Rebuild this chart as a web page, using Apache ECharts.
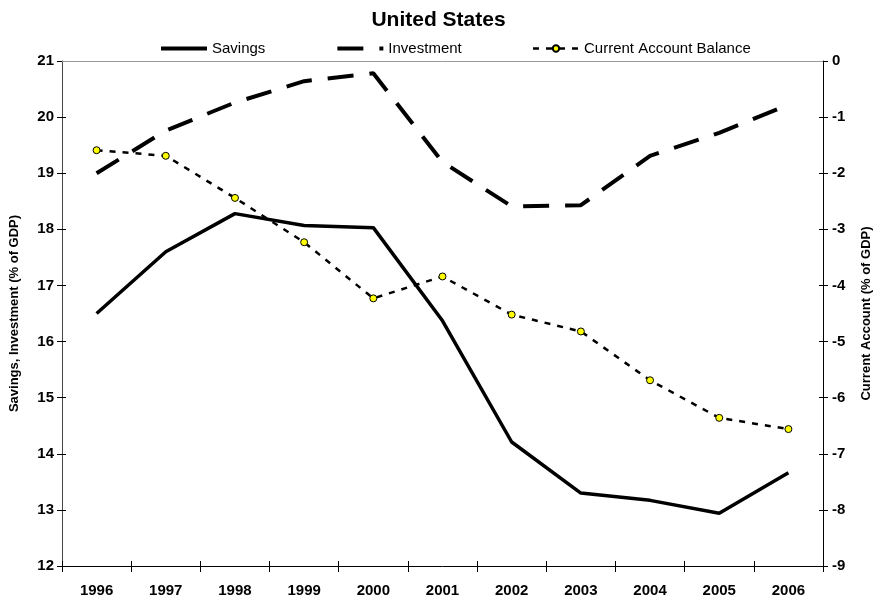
<!DOCTYPE html>
<html>
<head>
<meta charset="utf-8">
<script src="https://cdn.jsdelivr.net/npm/echarts@6/dist/echarts.min.js"></script>
<style>html,body{margin:0;padding:0;background:#fff;}#c{width:877px;height:606px;}</style>
</head>
<body>
<div id="c"></div>
<script>
var years = ['1996','1997','1998','1999','2000','2001','2002','2003','2004','2005','2006'];
var savings = [16.5, 17.6, 18.28, 18.07, 18.03, 16.37, 14.21, 13.3, 13.17, 12.94, 13.66];
var investment = [19.0, 19.76, 20.26, 20.64, 20.78, 19.2, 18.41, 18.43, 19.31, 19.72, 20.22];
var currentAccount = [-1.59, -1.69, -2.44, -3.23, -4.23, -3.84, -4.52, -4.82, -5.69, -6.36, -6.56];
var leftTicks = { min: 12, max: 21, interval: 1 };
var rightTicks = { min: -9, max: 0, interval: 1 };

var FONT = '"Liberation Sans", Arial, sans-serif';
var hidden = { show: false };
var chart = echarts.init(document.getElementById('c'));
chart.setOption({
  backgroundColor: '#fff',
  animation: false,
  title: {
    text: 'United States', left: 'center', top: 5,
    textStyle: { fontFamily: FONT, fontSize: 21, fontWeight: 'bold', color: '#000' }
  },
  legend: {
    top: 36, left: 154, itemGap: 70, itemWidth: 46, itemHeight: 8,
    textStyle: { fontFamily: FONT, fontSize: 15, color: '#000' },
    data: [
      { name: 'Savings', itemStyle: { opacity: 0 }, lineStyle: { width: 4 } },
      { name: 'Investment', itemStyle: { opacity: 0 }, lineStyle: { width: 4 } },
      { name: 'Current Account Balance', lineStyle: { width: 2.5 } }
    ]
  },
  grid: { left: 62, right: 54, top: 61, bottom: 40, containLabel: false, outerBoundsMode: 'none' },
  xAxis: [{
    type: 'category', data: years, boundaryGap: true, position: 'bottom',
    axisLine: { onZero: false, lineStyle: { color: '#000', width: 1 } },
    axisTick: { show: true, interval: 0, length: 6, lineStyle: { color: '#000' } },
    axisLabel: { interval: 0, margin: 17, fontFamily: FONT, fontSize: 15, fontWeight: 'bold', color: '#000' }
  }, {
    type: 'category', data: years, boundaryGap: true, position: 'bottom',
    axisLine: { show: false, onZero: false }, axisLabel: hidden, splitLine: hidden,
    axisTick: { show: true, inside: true, interval: 0, length: 5, lineStyle: { color: '#000' } }
  }],
  yAxis: [{
    type: 'value', min: leftTicks.min, max: leftTicks.max, interval: leftTicks.interval, position: 'left',
    name: 'Savings, Investment (% of GDP)', nameLocation: 'middle', nameGap: 41,
    nameTextStyle: { fontFamily: FONT, fontSize: 13, fontWeight: 'bold', color: '#000' },
    axisLine: { show: true, onZero: false, lineStyle: { color: '#444', width: 1 } },
    axisTick: { show: true, length: 5, lineStyle: { color: '#000' } },
    splitLine: hidden,
    axisLabel: { margin: 8, fontFamily: FONT, fontSize: 15, fontWeight: 'bold', color: '#000' }
  }, {
    type: 'value', min: rightTicks.min, max: rightTicks.max, interval: rightTicks.interval, position: 'right',
    name: 'Current Account (% of GDP)', nameLocation: 'middle', nameGap: 37, nameRotate: 90,
    nameTextStyle: { fontFamily: FONT, fontSize: 13, fontWeight: 'bold', color: '#000' },
    axisLine: { show: true, onZero: false, lineStyle: { color: '#000', width: 1 } },
    axisTick: { show: true, length: 5, lineStyle: { color: '#000' } },
    splitLine: hidden,
    axisLabel: { margin: 9, fontFamily: FONT, fontSize: 15, fontWeight: 'bold', color: '#000' }
  }, {
    type: 'value', min: leftTicks.min, max: leftTicks.max, interval: leftTicks.interval, position: 'left',
    axisLine: { show: false, onZero: false }, axisLabel: hidden, splitLine: hidden,
    axisTick: { show: true, inside: true, length: 4, lineStyle: { color: '#000' } }
  }, {
    type: 'value', min: rightTicks.min, max: rightTicks.max, interval: rightTicks.interval, position: 'right',
    axisLine: { show: false, onZero: false }, axisLabel: hidden, splitLine: hidden,
    axisTick: { show: true, inside: true, length: 4, lineStyle: { color: '#000' } }
  }],
  series: [{
    name: 'Savings', type: 'line', data: savings, yAxisIndex: 0,
    symbol: 'none', itemStyle: { color: '#000' },
    lineStyle: { color: '#000', width: 3.5, type: 'solid' },
    markLine: {
      silent: true, symbol: ['none', 'none'], label: { show: false },
      lineStyle: { color: '#999', type: 'solid', width: 1 },
      data: [{ yAxis: leftTicks.max }]
    }
  }, {
    name: 'Investment', type: 'line', data: investment, yAxisIndex: 0,
    symbol: 'none', itemStyle: { color: '#000' },
    lineStyle: { color: '#000', width: 4, type: [26, 16] }
  }, {
    name: 'Current Account Balance', type: 'line', data: currentAccount, yAxisIndex: 1,
    symbol: 'circle', symbolSize: 7,
    itemStyle: { color: '#ffff00', borderColor: '#000', borderWidth: 1 },
    lineStyle: { color: '#000', width: 2.5, type: [6, 7] }
  }]
});
</script>
</body>
</html>
